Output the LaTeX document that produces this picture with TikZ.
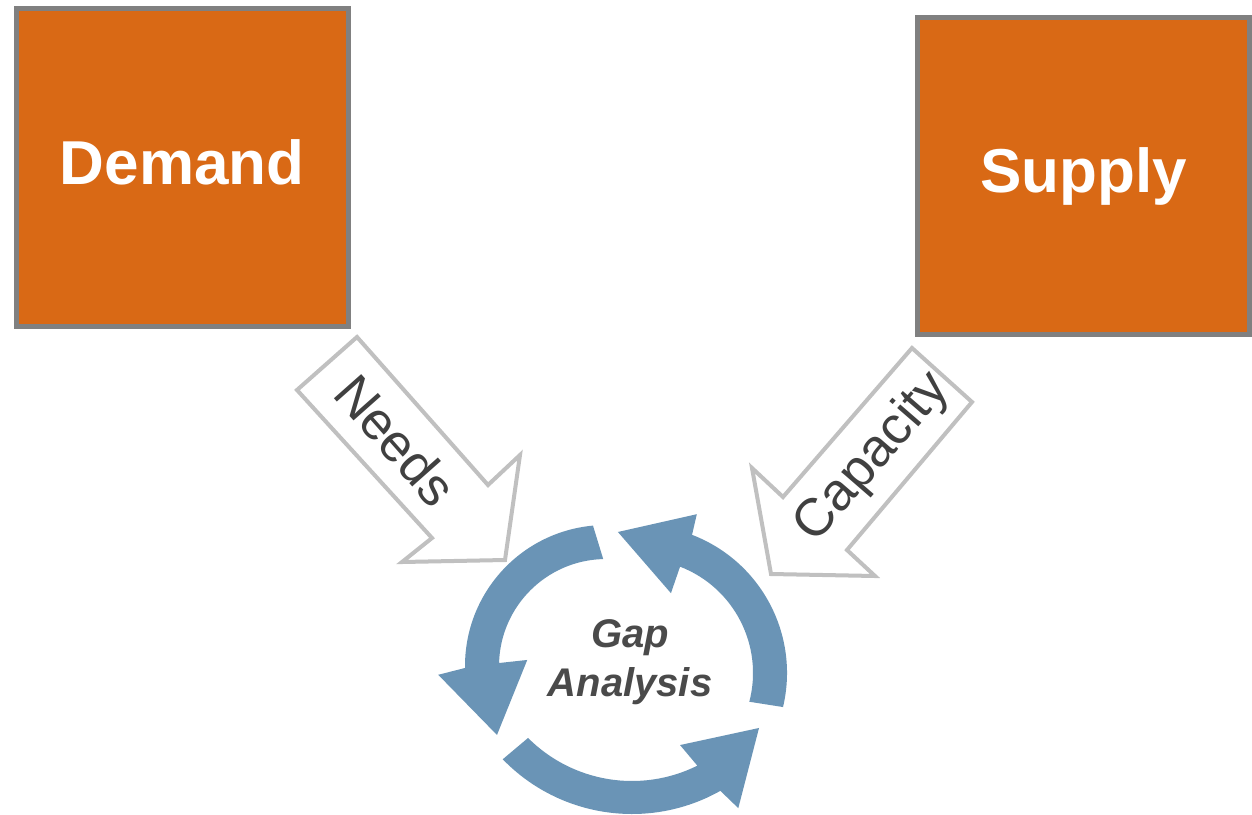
\documentclass[tikz,border=0pt]{standalone}
\usepackage{fontspec}
\setmainfont{Liberation Sans}
\usetikzlibrary{calc}
\definecolor{boxorange}{HTML}{D96915}
\definecolor{boxgray}{HTML}{808080}
\definecolor{outlinegray}{HTML}{C0C0C0}
\definecolor{cycleblue}{HTML}{6A94B6}
\definecolor{textgray}{HTML}{404040}
\definecolor{gaptext}{HTML}{4A4A4A}
\begin{document}
\begin{tikzpicture}[x=1pt,y=1pt,
  bigbox/.style={draw=boxgray, line width=5pt, fill=boxorange, text=white,
    font=\fontsize{62}{70}\selectfont\bfseries, inner sep=0pt},
  blockarrow/.style={draw=outlinegray, line width=4pt, fill=white, line join=miter},
  arrowlabel/.style={text=textgray, font=\fontsize{53}{60}\selectfont, inner sep=0pt},
  cyclearrow/.style={fill=cycleblue, draw=none},
  cyclelabel/.style={text=gaptext, font=\fontsize{40}{49}\selectfont\bfseries\itshape,
    align=center, inner sep=0pt}
]
\useasboundingbox[fill=white] (0,0) rectangle (1252,-814);

% boxes
\node[bigbox, minimum width=331.5pt, minimum height=318pt, text depth=10pt] (demand) at (182.3,-167.5) {Demand};
\node[bigbox, minimum width=332pt, minimum height=317pt] (supply) at (1083.5,-176) {Supply};

% block arrows
\draw[blockarrow] (357,-337) -- (488,-485) -- (520,-455) -- (505,-560) -- (402,-562) -- (432,-538) -- (297,-390) -- cycle;
\draw[blockarrow] (912,-348) -- (783,-497) -- (752,-468) -- (771,-574) -- (875,-576) -- (847,-550) -- (972,-402) -- cycle;
\node[arrowlabel, rotate=-48.5] (needs) at (396,-440) {Needs};
\node[arrowlabel, rotate=49.1] (capacity) at (873,-458) {Capacity};

% cycle arrows
\coordinate (L) at (606,-666);
\coordinate (R) at (639,-673);
\coordinate (B) at (632,-634);
\fill[cyclearrow] ($(L)+(95.3:141)$) arc[start angle=95.3, end angle=180.8, radius=141pt]
  -- ($(L)+(183:168)$) -- ($(L)+(212.3:129)$) -- ($(L)+(175.6:79)$) -- ($(L)+(178.4:107)$)
  arc[start angle=178.4, end angle=91.5, radius=107pt] -- cycle;
\fill[cyclearrow] ($(R)+(-13.3:148)$) arc[start angle=-13.3, end angle=69, radius=148pt]
  -- ($(R)+(70:169)$) -- ($(R)+(98.5:142.6)$) -- ($(R)+(68.2:86)$) -- ($(R)+(68.9:114)$)
  arc[start angle=68.9, end angle=-14.6, radius=114pt] -- cycle;
\fill[cyclearrow] ($(B)+(224.1:180)$) arc[start angle=224.1, end angle=299.4, radius=180pt]
  -- ($(B)+(301.4:204)$) -- ($(B)+(323.5:158)$) -- ($(B)+(293.4:121)$) -- ($(B)+(296.4:147)$)
  arc[start angle=296.4, end angle=225, radius=147pt] -- cycle;

\node[cyclelabel] (gap) at (630,-662) {Gap\\Analysis};
\end{tikzpicture}
\end{document}
